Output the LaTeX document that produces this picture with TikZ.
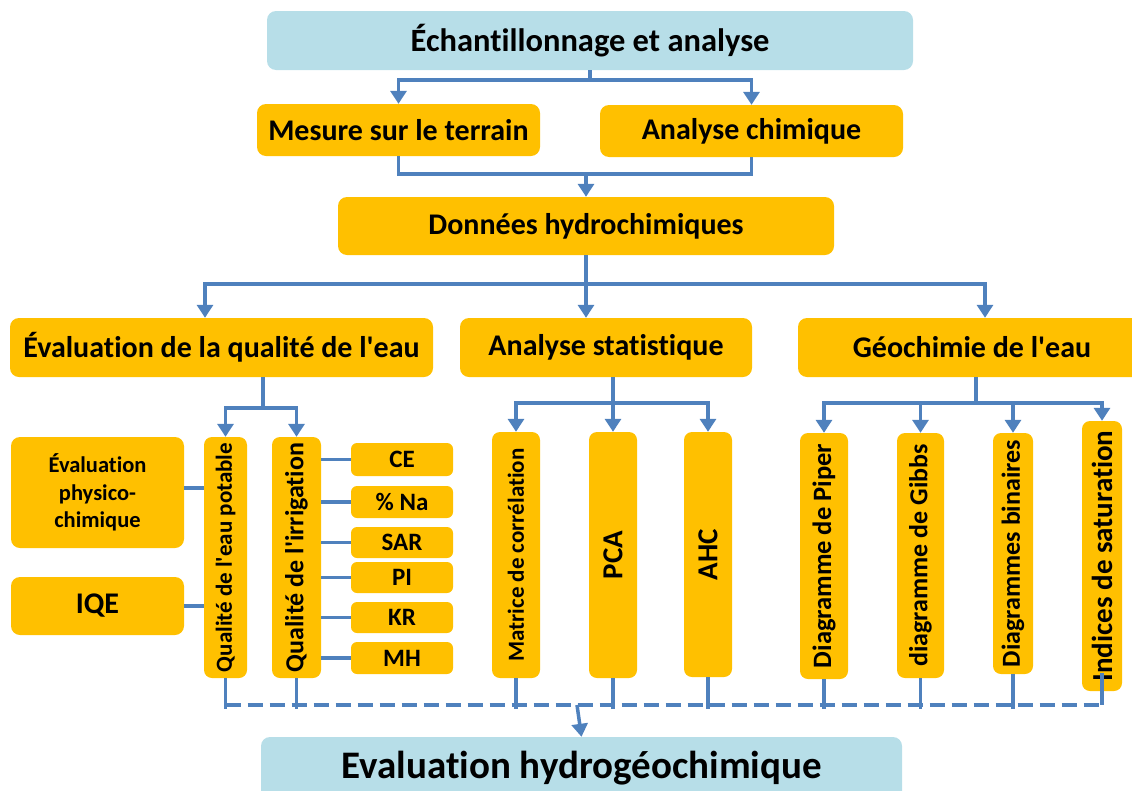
\documentclass[tikz,border=0pt]{standalone}
\usepackage{fontspec}
\setmainfont{Carlito}[Ligatures={NoCommon}]
\usetikzlibrary{arrows.meta,calc}
\definecolor{org}{HTML}{FFC000}
\definecolor{lbl}{HTML}{B7DEE8}
\definecolor{lnc}{HTML}{4F81BD}
\newcommand{\myfs}[1]{\fontsize{#1}{#1}\selectfont}
\newcommand{\ap}{\textquotesingle}
\begin{document}
\begin{tikzpicture}[x=1pt,y=-1pt,
 box/.style={fill=org, rounded corners=9pt, inner sep=0pt, font=\bfseries\myfs{30}, text=black, align=center},
 bbox/.style={box, fill=lbl},
 vbox/.style={fill=org, rounded corners=8pt, inner sep=0pt},
 sbox/.style={fill=org, rounded corners=6pt, inner sep=0pt, minimum width=102pt, font=\bfseries\myfs{25}},
 vtxt/.style={rotate=90, inner sep=0pt, font=\bfseries\myfs{#1}},
 ln/.style={draw=lnc, line width=3.5pt},
 ar/.style={ln, -{Triangle[width=16pt,length=13pt]}},
 dl/.style={draw=lnc, line width=3.5pt, dash pattern=on 15pt off 7pt},
]
\useasboundingbox (0,0) rectangle (1132,790);

% nodes
\node[bbox, minimum width=646pt, minimum height=59pt, font=\bfseries\myfs{32.5}] (top) at (590,40.5) {Échantillonnage et analyse};
\node[box, minimum width=283pt, minimum height=52pt] (mes) at (398.5,130) {Mesure sur le terrain};
\node[box, minimum width=303pt, minimum height=52pt] (ana) at (751.5,131) {Analyse chimique};
\node[box, minimum width=496pt, minimum height=58pt] (don) at (586,226) {Données hydrochimiques};
\node[box, minimum width=423pt, minimum height=59pt] (eval) at (221.5,347.5) {Évaluation de la qualité de l\ap eau};
\node[box, minimum width=292pt, minimum height=59pt] (stat) at (606,347.5) {Analyse statistique};
\node[box, minimum width=348pt, minimum height=59pt] (geo) at (972,347.5) {Géochimie de l\ap eau};

\node[box, minimum width=173pt, minimum height=111pt, font=\bfseries\fontsize{22.5}{27.5}\selectfont] (phys) at (97.5,492.5) {Évaluation\\physico-\\chimique};
\node[box, minimum width=173pt, minimum height=58pt, font=\bfseries\myfs{30}] (iqe) at (97.5,606) {IQE};

\node[vbox, minimum width=43pt, minimum height=241pt] (pot) at (225.5,557.5) {};
\node[vtxt=23] (potT) at (pot.center) {Qualité de l\ap eau potable};
\node[vbox, minimum width=49pt, minimum height=241pt] (irr) at (296.5,557.5) {};
\node[vtxt=26] (irrT) at (irr.center) {Qualité de l\ap irrigation};

\node[sbox, minimum height=33pt] (ce) at (402,459.5) {CE};
\node[sbox, minimum height=32pt] (na) at (402,502) {\% Na};
\node[sbox, minimum height=31pt] (sar) at (402,542.5) {SAR};
\node[sbox, minimum height=31pt] (pi) at (402,577.5) {PI};
\node[sbox, minimum height=31pt] (kr) at (402,617.5) {KR};
\node[sbox, minimum height=32pt] (mh) at (402,658) {MH};

\node[vbox, minimum width=48pt, minimum height=246pt] (mat) at (516,555) {};
\node[vtxt=23] (matT) at (mat.center) {Matrice de corrélation};
\node[vbox, minimum width=48pt, minimum height=246pt] (pca) at (613,555) {};
\node[vtxt=29] (pcaT) at (pca.center) {PCA};
\node[vbox, minimum width=48pt, minimum height=245pt] (ahc) at (708,554.5) {};
\node[vtxt=29] (ahcT) at (ahc.center) {AHC};

\node[vbox, minimum width=48pt, minimum height=246pt] (pip) at (824,556) {};
\node[vtxt=26.5] (pipT) at (pip.center) {Diagramme de Piper};
\node[vbox, minimum width=47pt, minimum height=245pt] (gib) at (920.5,555.5) {};
\node[vtxt=26] (gibT) at (gib.center) {diagramme de Gibbs};
\node[vbox, minimum width=40pt, minimum height=241pt] (bin) at (1013,553.5) {};
\node[vtxt=26] (binT) at (bin.center) {Diagrammes binaires};
\node[vbox, minimum width=40pt, minimum height=270pt] (sat) at (1102,556) {};
\node[vtxt=29] (satT) at (sat.center) {Indices de saturation};

\node[bbox, minimum width=641pt, minimum height=63pt, font=\bfseries\myfs{39}] (bot) at (581.5,768.5) {Evaluation hydrogéochimique};

% connectors
\coordinate (j1) at (590,80);
\draw[ln] (top.south) -- (j1);
\draw[ar] (j1) -| (mes.north);
\draw[ar] (j1) -| (ana.north);

\coordinate (j2) at (586,174);
\draw[ln] (mes.south) |- (j2) -| (ana.south);
\draw[ar] (j2) -- (don.north);

\coordinate (j3) at (586,284);
\draw[ln] (don.south) -- (j3);
\draw[ar] (j3) -| ([xshift=-16.5pt]eval.north);
\draw[ar] (j3) -- (j3 |- stat.north);
\draw[ar] (j3) -| ([xshift=13pt]geo.north);

\coordinate (j4) at (263,408);
\draw[ln] (j4 |- eval.south) -- (j4);
\draw[ar] (j4) -| (pot.north);
\draw[ar] (j4) -| (irr.north);

\draw[ln] ([yshift=4.5pt]phys.east) -- ([yshift=4.5pt]phys.east -| pot.west);
\draw[ln] (iqe.east) -- (iqe.east -| pot.west);
\foreach \n in {ce,na,sar,pi,kr,mh} \draw[ln] (\n.west) -- (\n.west -| irr.east);

\coordinate (j5) at (613,403);
\draw[ln] (j5 |- stat.south) -- (j5);
\draw[ar] (j5) -| (mat.north);
\draw[ar] (j5) -- (pca.north);
\draw[ar] (j5) -| (ahc.north);

\coordinate (j6) at (976,403);
\draw[ln] (j6 |- geo.south) -- (j6);
\draw[ar] (j6) -| (pip.north);
\draw[ar] (j6) -| (gib.north);
\draw[ar] (j6) -| (bin.north);
\draw[ar] (j6) -| (sat.north);

\coordinate (jb) at (577,705);
\coordinate (je) at (0,709);
\draw[dl] (pot.south |- jb) -- (sat.south |- jb);
\foreach \n in {pot,irr,mat,pca,ahc,pip,gib,bin} \draw[ln] (\n.south) -- (\n.south |- je);
\draw[ln] ([yshift=18pt]sat.south) -- (sat.south |- jb);
\draw[ar] (jb) -- (bot.north);
\end{tikzpicture}
\end{document}
